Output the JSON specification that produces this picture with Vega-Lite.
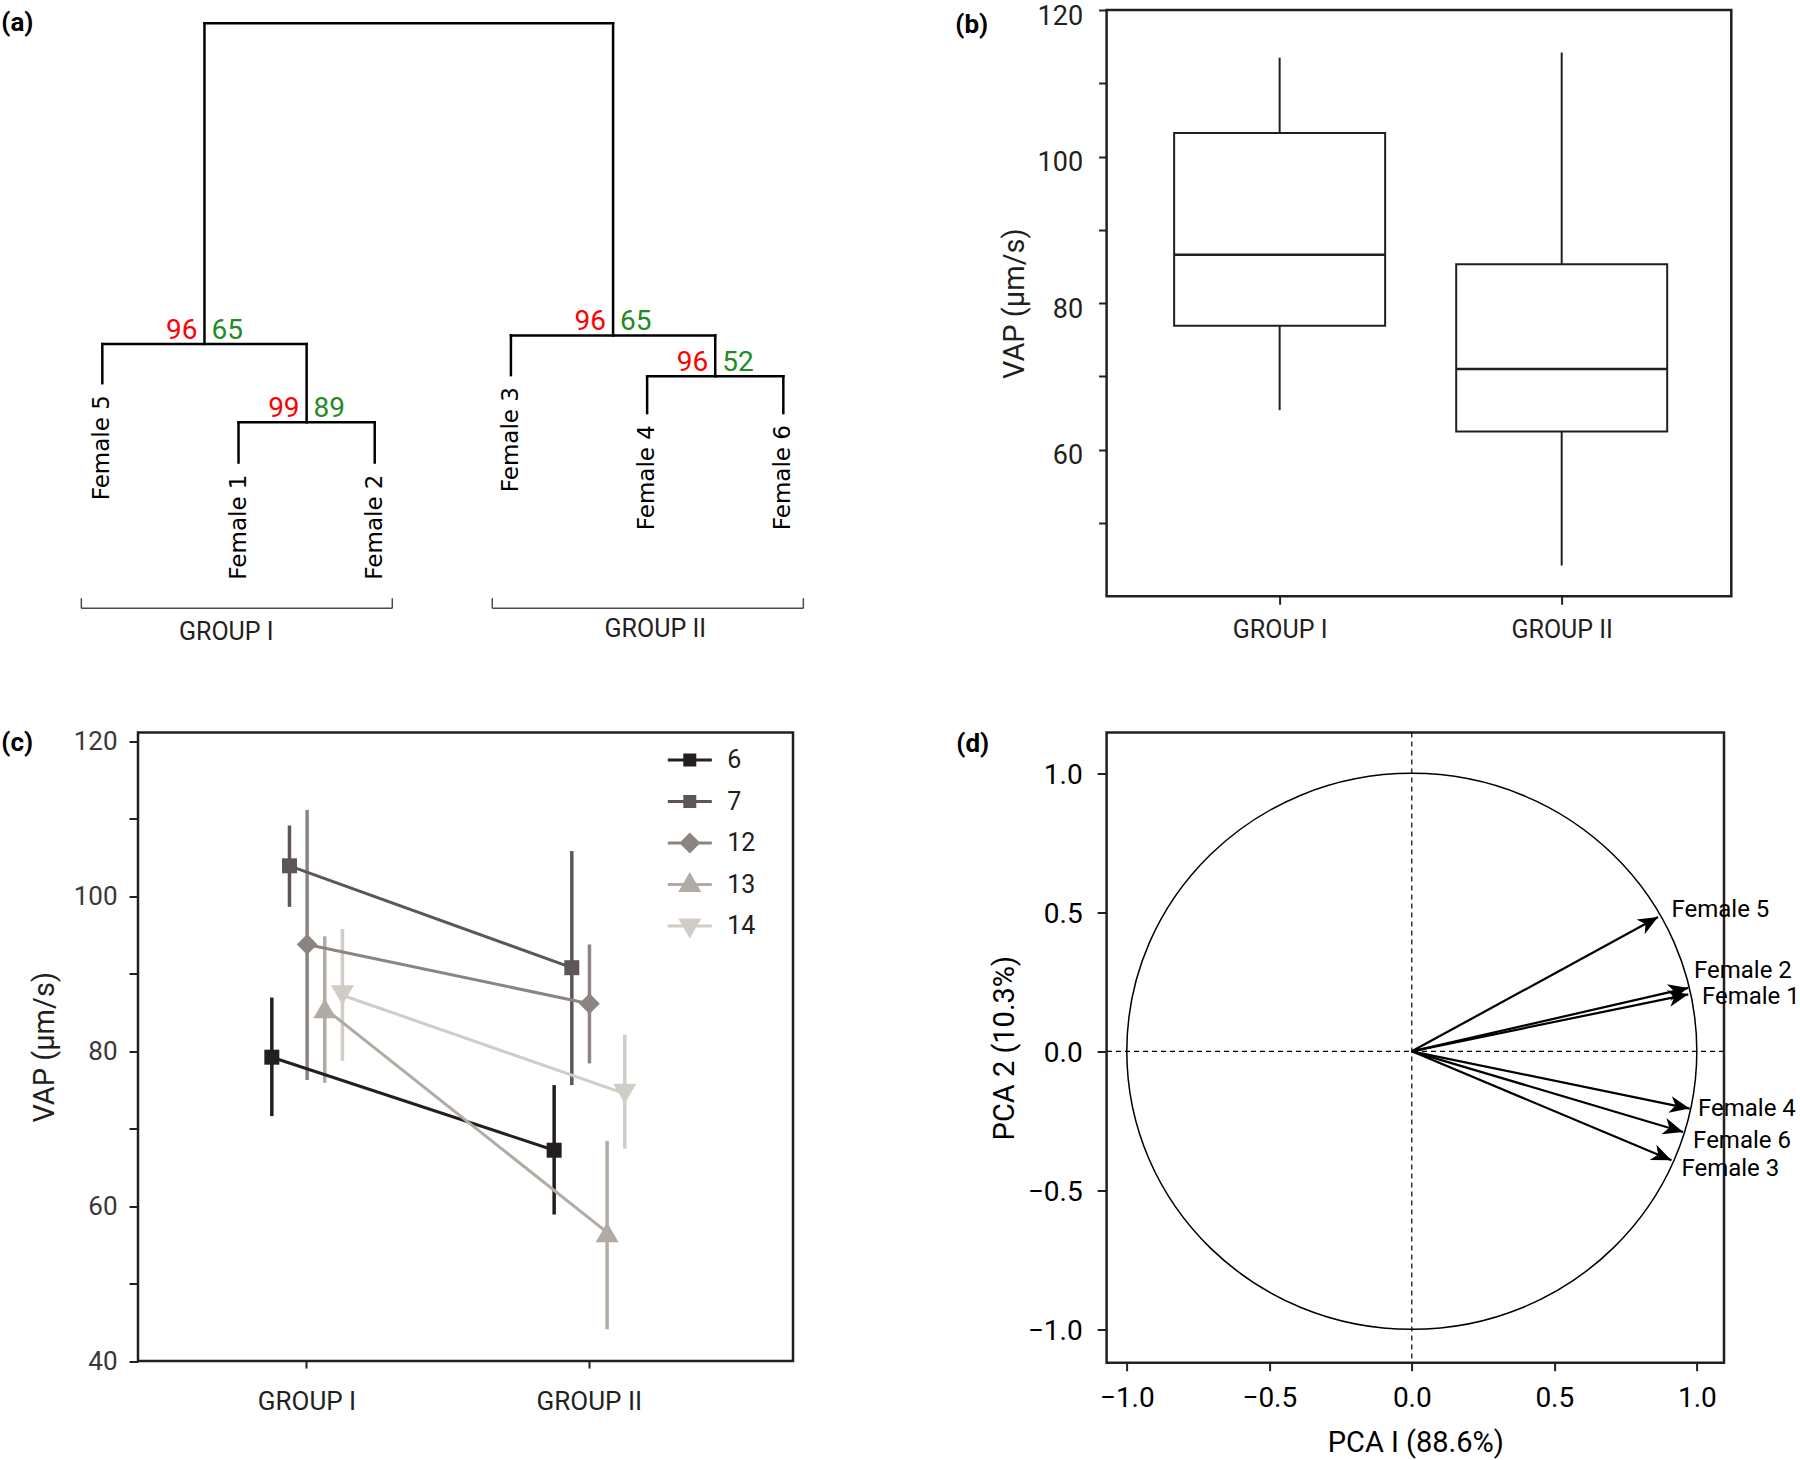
{
  "$schema": "https://vega.github.io/schema/vega-lite/v6.json",
  "background": "white",
  "padding": 0,
  "autosize": {"type": "pad"},
  "columns": 2,
  "bounds": "flush",
  "spacing": {"row": 135.5, "column": 313.6},
  "config": {
    "font": "Roboto",
    "view": {"stroke": "#231f20", "strokeWidth": 2.5},
    "axis": {"domain": false, "grid": false, "ticks": true, "tickColor": "#231f20", "tickWidth": 2, "labelColor": "#231f20", "titleColor": "#231f20", "titleFontWeight": "normal", "labelFont": "Roboto", "titleFont": "Roboto"},
    "title": {"font": "Roboto", "fontWeight": "bold", "fontSize": 26, "anchor": "start", "frame": "group", "orient": "top", "offset": 0, "baseline": "top", "color": "black"}
  },
  "datasets": {
    "tree": [
      {"x": 1.75, "x2": 4.75, "h": 97.7, "h2": 97.7},
      {"x": 1.75, "x2": 1.75, "h": 41.9, "h2": 97.7},
      {"x": 4.75, "x2": 4.75, "h": 43.4, "h2": 97.7},
      {"x": 1, "x2": 2.5, "h": 41.9, "h2": 41.9},
      {"x": 1, "x2": 1, "h": 35.1, "h2": 41.9},
      {"x": 2.5, "x2": 2.5, "h": 28.3, "h2": 41.9},
      {"x": 2, "x2": 3, "h": 28.3, "h2": 28.3},
      {"x": 2, "x2": 2, "h": 21.3, "h2": 28.3},
      {"x": 3, "x2": 3, "h": 21.3, "h2": 28.3},
      {"x": 4, "x2": 5.5, "h": 43.4, "h2": 43.4},
      {"x": 4, "x2": 4, "h": 36.5, "h2": 43.4},
      {"x": 5.5, "x2": 5.5, "h": 36.3, "h2": 43.4},
      {"x": 5, "x2": 6, "h": 36.3, "h2": 36.3},
      {"x": 5, "x2": 5, "h": 29.9, "h2": 36.3},
      {"x": 6, "x2": 6, "h": 29.9, "h2": 36.3}
    ],
    "brackets": [
      {"x": 0.846, "x2": 3.129, "h": -4.05, "h2": -4.05},
      {"x": 0.846, "x2": 0.846, "h": -4.05, "h2": -2.3},
      {"x": 3.129, "x2": 3.129, "h": -4.05, "h2": -2.3},
      {"x": 3.863, "x2": 6.147, "h": -4.05, "h2": -4.05},
      {"x": 3.863, "x2": 3.863, "h": -4.05, "h2": -2.3},
      {"x": 6.147, "x2": 6.147, "h": -4.05, "h2": -2.3}
    ],
    "nodes": [
      {"x": 1.75, "h": 41.9, "r": "96", "g": "65"},
      {"x": 2.5, "h": 28.3, "r": "99", "g": "89"},
      {"x": 4.75, "h": 43.4, "r": "96", "g": "65"},
      {"x": 5.5, "h": 36.3, "r": "96", "g": "52"}
    ],
    "leaves": [
      {"x": 1, "h": 35.1, "name": "Female 5"},
      {"x": 2, "h": 21.3, "name": "Female 1"},
      {"x": 3, "h": 21.3, "name": "Female 2"},
      {"x": 4, "h": 36.5, "name": "Female 3"},
      {"x": 5, "h": 29.9, "name": "Female 4"},
      {"x": 6, "h": 29.9, "name": "Female 6"}
    ],
    "groups": [
      {"x": 1.91, "h": -8.2, "label": "GROUP I"},
      {"x": 5.06, "h": -7.7, "label": "GROUP II"}
    ],
    "box": [
      {"group": "GROUP I", "lower": 65.4, "q1": 76.9, "median": 86.6, "q3": 103.2, "upper": 113.5},
      {"group": "GROUP II", "lower": 44.2, "q1": 62.5, "median": 71.0, "q3": 85.3, "upper": 114.2}
    ],
    "vap": [
      {"series": "6", "group": "GROUP I", "mean": 79.2, "lo": 71.6, "hi": 86.9},
      {"series": "6", "group": "GROUP II", "mean": 67.2, "lo": 58.9, "hi": 75.6},
      {"series": "7", "group": "GROUP I", "mean": 103.9, "lo": 98.6, "hi": 109.1},
      {"series": "7", "group": "GROUP II", "mean": 90.75, "lo": 75.6, "hi": 105.8},
      {"series": "12", "group": "GROUP I", "mean": 93.75, "lo": 76.25, "hi": 111.1},
      {"series": "12", "group": "GROUP II", "mean": 86.1, "lo": 78.4, "hi": 93.75},
      {"series": "13", "group": "GROUP I", "mean": 85.5, "lo": 75.9, "hi": 94.8},
      {"series": "13", "group": "GROUP II", "mean": 56.6, "lo": 44.1, "hi": 68.4},
      {"series": "14", "group": "GROUP I", "mean": 87.2, "lo": 78.75, "hi": 95.75},
      {"series": "14", "group": "GROUP II", "mean": 74.5, "lo": 67.4, "hi": 82.1}
    ],
    "pca": [
      {"name": "Female 5", "x": 0.864, "y": 0.483, "lx": 0.911, "ly": 0.509},
      {"name": "Female 2", "x": 0.97, "y": 0.228, "lx": 0.99, "ly": 0.289},
      {"name": "Female 1", "x": 0.97, "y": 0.205, "lx": 1.018, "ly": 0.195},
      {"name": "Female 4", "x": 0.975, "y": -0.206, "lx": 1.004, "ly": -0.206},
      {"name": "Female 6", "x": 0.952, "y": -0.29, "lx": 0.987, "ly": -0.323},
      {"name": "Female 3", "x": 0.911, "y": -0.392, "lx": 0.946, "ly": -0.422}
    ],
    "origin": [{"o": 0}]
  },
  "concat": [
    {
      "width": 655,
      "height": 575,
      "view": {"stroke": null},
      "title": {"text": "(a)", "dx": -136.7, "dy": 30},
      "encoding": {
        "x": {"field": "x", "type": "quantitative", "scale": {"domain": [1.262, 6.071], "nice": false, "zero": false}, "axis": null},
        "y": {"field": "h", "type": "quantitative", "scale": {"domain": [0, 100], "nice": false, "zero": false}, "axis": null}
      },
      "layer": [
        {"data": {"name": "tree"}, "mark": {"type": "rule", "color": "black", "strokeWidth": 2.5, "strokeCap": "square"}, "encoding": {"x2": {"field": "x2"}, "y2": {"field": "h2"}}},
        {"data": {"name": "brackets"}, "mark": {"type": "rule", "color": "#4a4a4a", "strokeWidth": 1.5}, "encoding": {"x2": {"field": "x2"}, "y2": {"field": "h2"}}},
        {"data": {"name": "nodes"}, "mark": {"type": "text", "align": "right", "baseline": "alphabetic", "dx": -7, "dy": -5, "color": "#ff0000", "fontSize": 28}, "encoding": {"text": {"field": "r", "type": "nominal"}}},
        {"data": {"name": "nodes"}, "mark": {"type": "text", "align": "left", "baseline": "alphabetic", "dx": 7, "dy": -5, "color": "#228b22", "fontSize": 28}, "encoding": {"text": {"field": "g", "type": "nominal"}}},
        {"data": {"name": "leaves"}, "mark": {"type": "text", "angle": 270, "align": "right", "baseline": "middle", "dx": -12, "font": "DejaVu Sans", "fontSize": 23, "color": "black"}, "encoding": {"text": {"field": "name", "type": "nominal"}}},
        {"data": {"name": "groups"}, "mark": {"type": "text", "align": "center", "baseline": "middle", "fontSize": 25, "color": "#231f20"}, "encoding": {"text": {"field": "label", "type": "nominal"}}}
      ]
    },
    {
      "width": 624.7,
      "height": 586.3,
      "title": {"text": "(b)", "dx": -151.3, "dy": 40},
      "data": {"name": "box"},
      "encoding": {
        "x": {"field": "group", "type": "nominal", "scale": {"type": "point", "padding": 0.6074, "align": 0.505}, "axis": {"title": null, "labelAngle": 0, "labelFontSize": 25, "tickSize": 8, "labelPadding": 13}}
      },
      "layer": [
        {"mark": {"type": "rule", "color": "#231f20", "strokeWidth": 2}, "encoding": {
          "y": {"field": "lower", "type": "quantitative", "scale": {"domain": [40, 120], "nice": false, "zero": false}, "axis": {"title": "VAP (μm/s)", "values": [50, 60, 70, 80, 90, 100, 110, 120], "labelExpr": "datum.value % 20 == 0 ? datum.label : ''", "labelFontSize": 27, "tickSize": 8, "labelPadding": 16, "labelOffset": 6, "titleFontSize": 29, "titlePadding": 8}},
          "y2": {"field": "q1"}}},
        {"mark": {"type": "rule", "color": "#231f20", "strokeWidth": 2}, "encoding": {"y": {"field": "q3", "type": "quantitative"}, "y2": {"field": "upper"}}},
        {"mark": {"type": "bar", "size": 211, "fill": "white", "stroke": "#231f20", "strokeWidth": 2}, "encoding": {"y": {"field": "q1", "type": "quantitative"}, "y2": {"field": "q3"}}},
        {"mark": {"type": "tick", "size": 211, "thickness": 2.5, "color": "#231f20", "opacity": 1}, "encoding": {"y": {"field": "median", "type": "quantitative"}}}
      ]
    },
    {
      "width": 655,
      "height": 628.5,
      "title": {"text": "(c)", "dx": -136.7, "dy": 32},
      "data": {"name": "vap"},
      "encoding": {
        "x": {"field": "group", "type": "nominal", "scale": {"type": "band", "paddingInner": 0, "paddingOuter": 0.16, "align": 0.308}, "axis": {"title": null, "labelAngle": 0, "labelFontSize": 26, "tickSize": 7, "labelPadding": 20}},
        "xOffset": {"field": "series", "type": "nominal", "scale": {"type": "point", "padding": 0, "domain": ["6", "7", "12", "13", "14"], "range": [106, 176.6]}}
      },
      "layer": [
        {"mark": {"type": "rule", "strokeWidth": 3.5}, "encoding": {
          "y": {"field": "lo", "type": "quantitative", "scale": {"domain": [40, 121.1], "nice": false, "zero": false}, "axis": {"title": "VAP (μm/s)", "values": [40, 50, 60, 70, 80, 90, 100, 110, 120], "labelExpr": "datum.value % 20 == 0 ? datum.label : ''", "labelFontSize": 26, "labelColor": "#3d3637", "tickSize": 9, "labelPadding": 12, "titleFontSize": 29, "titlePadding": 14}},
          "y2": {"field": "hi"},
          "stroke": {"field": "series", "type": "nominal", "scale": {"domain": ["7", "6", "12", "13", "14"], "range": ["#5e5656", "#231f20", "#8c8480", "#b1aba4", "#d1cdc6"]}, "legend": null}}},
        {"mark": {"type": "line", "strokeWidth": 3}, "encoding": {
          "y": {"field": "mean", "type": "quantitative"},
          "stroke": {"field": "series", "type": "nominal", "scale": {"domain": ["7", "6", "12", "13", "14"], "range": ["#5e5656", "#231f20", "#8c8480", "#b1aba4", "#d1cdc6"]}, "legend": null}}},
        {"transform": [{"filter": "datum.series == '6' || datum.series == '7'"}],
          "mark": {"type": "point", "shape": "square", "filled": true, "opacity": 1, "strokeWidth": 0, "size": 225},
          "encoding": {"y": {"field": "mean", "type": "quantitative"},
            "fill": {"field": "series", "type": "nominal", "scale": {"domain": ["7", "6", "12", "13", "14"], "range": ["#5e5656", "#231f20", "#8c8480", "#b1aba4", "#d1cdc6"]}, "legend": null}}},
        {"transform": [{"filter": "datum.series == '12'"}],
          "mark": {"type": "point", "shape": "diamond", "filled": true, "opacity": 1, "strokeWidth": 0, "size": 430},
          "encoding": {"y": {"field": "mean", "type": "quantitative"},
            "fill": {"field": "series", "type": "nominal", "scale": {"domain": ["7", "6", "12", "13", "14"], "range": ["#5e5656", "#231f20", "#8c8480", "#b1aba4", "#d1cdc6"]}, "legend": null}}},
        {"transform": [{"filter": "datum.series == '13'"}],
          "mark": {"type": "point", "shape": "triangle-up", "filled": true, "opacity": 1, "strokeWidth": 0, "size": 529},
          "encoding": {"y": {"field": "mean", "type": "quantitative"},
            "fill": {"field": "series", "type": "nominal", "scale": {"domain": ["7", "6", "12", "13", "14"], "range": ["#5e5656", "#231f20", "#8c8480", "#b1aba4", "#d1cdc6"]}, "legend": null}}},
        {"transform": [{"filter": "datum.series == '14'"}],
          "mark": {"type": "point", "shape": "triangle-down", "filled": true, "opacity": 1, "strokeWidth": 0, "size": 529},
          "encoding": {"y": {"field": "mean", "type": "quantitative"},
            "fill": {"field": "series", "type": "nominal", "scale": {"domain": ["7", "6", "12", "13", "14"], "range": ["#5e5656", "#231f20", "#8c8480", "#b1aba4", "#d1cdc6"]}, "legend": null}}},
        {"mark": {"type": "point", "filled": true, "opacity": 0, "strokeWidth": 0, "size": 10},
          "encoding": {"y": {"field": "mean", "type": "quantitative"},
            "color": {"field": "series", "type": "nominal", "scale": {"domain": ["6", "7", "12", "13", "14"], "range": ["#231f20", "#5e5656", "#8c8480", "#b1aba4", "#d1cdc6"]},
              "legend": {"title": null, "orient": "none", "legendX": 539.3, "legendY": 737.5, "padding": 0, "symbolSize": 400, "symbolOpacity": 1, "labelFontSize": 25, "labelOffset": 25, "rowPadding": 15.5, "labelColor": "#231f20", "symbolStrokeWidth": 0}},
            "shape": {"field": "series", "type": "nominal", "scale": {"domain": ["6", "7", "12", "13", "14"], "range": ["M-2.2,-0.15H2.2V0.15H-2.2ZM-0.65,-0.65H0.65V0.65H-0.65Z", "M-2.2,-0.15H2.2V0.15H-2.2ZM-0.65,-0.65H0.65V0.65H-0.65Z", "M-2.2,-0.15H2.2V0.15H-2.2ZM0,-1.05L1.05,0L0,1.05L-1.05,0Z", "M-2.2,-0.15H2.2V0.15H-2.2ZM0,-1.25L1.15,0.75H-1.15Z", "M-2.2,-0.15H2.2V0.15H-2.2ZM0,1.25L-1.15,-0.75H1.15Z"]},
              "legend": {"title": null, "orient": "none", "legendX": 539.3, "legendY": 737.5, "padding": 0, "symbolSize": 400, "symbolOpacity": 1, "labelFontSize": 25, "labelOffset": 25, "rowPadding": 15.5, "labelColor": "#231f20", "symbolStrokeWidth": 0}}}}
      ]
    },
    {
      "width": 617.4,
      "height": 630.2,
      "title": {"text": "(d)", "dx": -150.3, "dy": 29.5},
      "layer": [
        {"data": {"name": "origin"}, "mark": {"type": "rule", "color": "black", "strokeWidth": 1.2, "strokeDash": [5, 4]}, "encoding": {"x": {"datum": 0, "type": "quantitative", "scale": {"domain": [-1.0709, 1.0954], "nice": false, "zero": false}}}},
        {"data": {"name": "origin"}, "mark": {"type": "rule", "color": "black", "strokeWidth": 1.2, "strokeDash": [5, 4]}, "encoding": {"y": {"datum": 0, "type": "quantitative", "scale": {"domain": [-1.12, 1.1468], "nice": false, "zero": false}}}},
        {"data": {"name": "origin"}, "mark": {"type": "point", "shape": "M-1,0A1,0.9754,0,1,0,1,0A1,0.9754,0,1,0,-1,0Z", "size": 324900, "filled": false, "stroke": "black", "strokeWidth": 1.5, "opacity": 1}, "encoding": {"x": {"datum": 0, "type": "quantitative"}, "y": {"datum": 0, "type": "quantitative"}}},
        {"data": {"name": "pca"}, "mark": {"type": "rule", "color": "black", "strokeWidth": 2.2}, "encoding": {"x": {"field": "x", "type": "quantitative"}, "y": {"field": "y", "type": "quantitative"}, "x2": {"datum": 0}, "y2": {"datum": 0}}},
        {"data": {"name": "pca"}, "transform": [{"calculate": "-atan2(datum.y, datum.x) * 180 / PI", "as": "angle"}],
          "mark": {"type": "point", "shape": "M0,0L-1,-0.42L-0.72,0L-1,0.42Z", "size": 1600, "filled": true, "color": "black", "opacity": 1, "strokeWidth": 0},
          "encoding": {
            "x": {"field": "x", "type": "quantitative", "axis": {"title": "PCA I (88.6%)", "values": [-1, -0.5, 0, 0.5, 1], "format": ".1f", "labelFontSize": 28, "labelColor": "black", "tickSize": 8, "labelPadding": 14, "titleFontSize": 29, "titlePadding": 16, "titleColor": "black"}},
            "y": {"field": "y", "type": "quantitative", "axis": {"title": "PCA 2 (10.3%)", "values": [-1, -0.5, 0, 0.5, 1], "format": ".1f", "labelFontSize": 28, "labelColor": "black", "tickSize": 9.4, "labelPadding": 15, "labelOffset": 2, "titleFontSize": 29, "titlePadding": 8, "titleColor": "black"}},
            "angle": {"field": "angle", "type": "quantitative", "scale": null}}},
        {"data": {"name": "pca"}, "mark": {"type": "text", "align": "left", "baseline": "middle", "fontSize": 24, "color": "black"}, "encoding": {"x": {"field": "lx", "type": "quantitative"}, "y": {"field": "ly", "type": "quantitative"}, "text": {"field": "name", "type": "nominal"}}}
      ]
    }
  ]
}
